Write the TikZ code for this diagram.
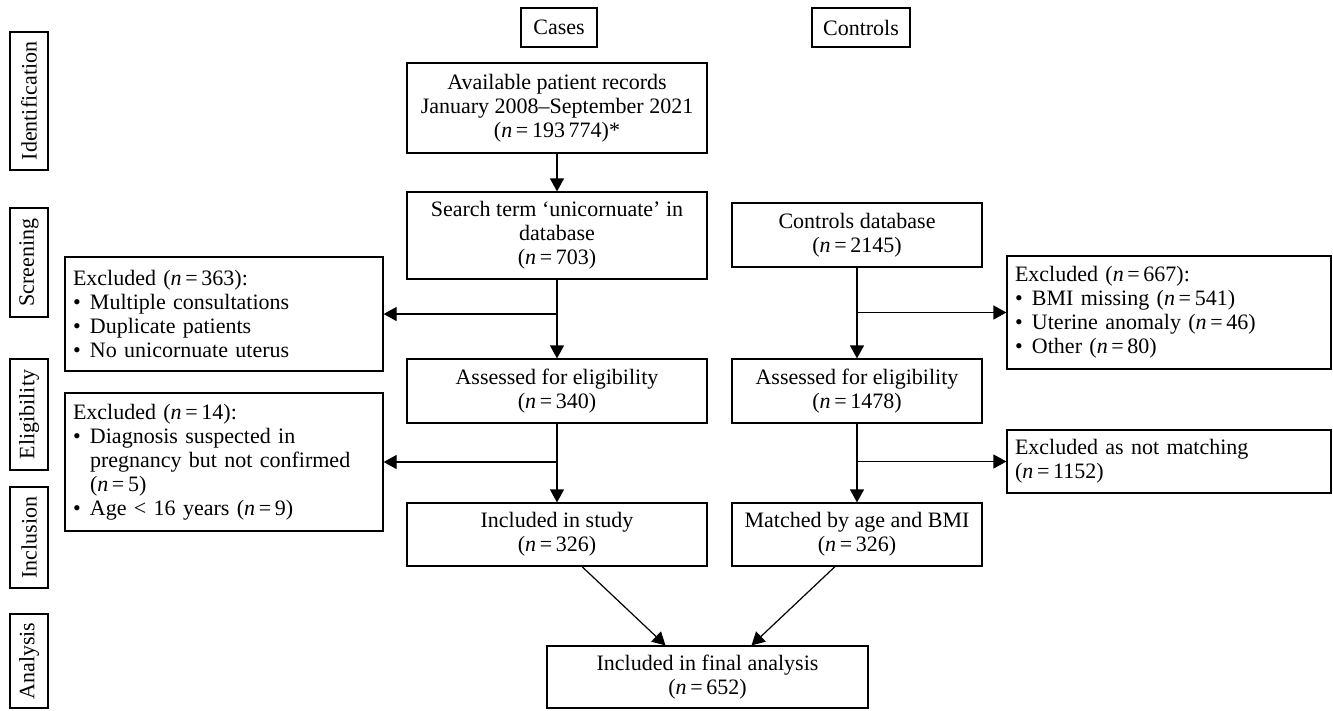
\documentclass[tikz,border=0pt]{standalone}
\usepackage{fontspec}
\setmainfont{Liberation Serif}
\usetikzlibrary{arrows.meta}

\newcommand{\nval}[1]{(\textit{n}\,=\,#1)}
\newcommand{\bul}{\makebox[17pt][l]{\textbullet}}
\newcommand{\cont}{\hspace*{17pt}}

\begin{document}
\begin{tikzpicture}[x=1pt, y=-1pt, font=\fontsize{22}{24}\selectfont,
    box/.style={draw, line width=1.2pt, align=center, inner sep=4pt},
    exbox/.style={draw, line width=1.2pt, align=left, inner xsep=8pt, inner ysep=4pt},
    stage/.style={draw, line width=1.2pt, rotate=90, minimum height=38pt, inner sep=2pt},
    flow/.style={line width=1.2pt, -{Triangle[length=13pt, width=14pt]}}]

    \useasboundingbox (0,0) rectangle (1333,710);

    % phases on the left
    \foreach \lab/\yc/\len in {Identification/101/138, Screening/262.5/109,
        Eligibility/414.5/111, Inclusion/537.5/101, Analysis/661/94}{
    \node[stage, minimum width=\len pt] (\lab) at (29,\yc) {\lab};
    }

    % column heads
    \node[box, minimum width=76pt, minimum height=39pt] (cases) at (559,27.5) {Cases};
    \node[box, minimum width=98pt, minimum height=39pt] (controls) at (861,27.5) {Controls};

    % cases
    \node[box, minimum width=300pt, minimum height=90pt] (avail) at (557,108)
        {Available patient records\\January 2008--September 2021\\\nval{193\,774}*};
    \node[box, minimum width=300pt, minimum height=87pt] (search) at (557,235.5)
        {Search term ‘unicornuate’ in\\database\\\nval{703}};
    \node[box, minimum width=300pt, minimum height=64pt] (assA) at (557,391)
        {Assessed for eligibility\\\nval{340}};
    \node[box, minimum width=300pt, minimum height=63pt] (inclA) at (557,534.5)
        {Included in study\\\nval{326}};

    % controls
    \node[box, minimum width=250pt, minimum height=64pt] (ctrldb) at (857,235)
        {Controls database\\\nval{2145}};
    \node[box, minimum width=250pt, minimum height=64pt] (assB) at (857,391)
        {Assessed for eligibility\\\nval{1478}};
    \node[box, minimum width=250pt, minimum height=63pt] (inclB) at (857,534.5)
        {Matched by age and BMI\\\nval{326}};

    % exclusions
    \node[exbox, text width=302pt, minimum height=114pt] (exA1) at (224,314)
        {Excluded \nval{363}:\\\bul Multiple consultations\\\bul Duplicate patients\\\bul No unicornuate uterus};
    \node[exbox, text width=302pt, minimum height=138pt] (exA2) at (224,462)
        {Excluded \nval{14}:\\\bul Diagnosis suspected in\\\cont pregnancy but not confirmed\\\cont \nval{5}\\\bul Age < 16 years \nval{9}};
    \node[exbox, text width=308pt, minimum height=113pt] (exB1) at (1169,312.5)
        {Excluded \nval{667}:\\\bul BMI missing \nval{541}\\\bul Uterine anomaly \nval{46}\\\bul Other \nval{80}};
    \node[exbox, text width=308pt, minimum height=63pt] (exB2) at (1169,461.5)
        {Excluded as not matching\\\nval{1152}};

    \node[box, minimum width=321pt, minimum height=62pt] (final) at (707.5,677)
        {Included in final analysis\\\nval{652}};

    % arrows
    \draw[flow] (avail) -- (search);
    \draw[flow] (search) -- (assA);
    \draw[flow] (assA) -- (inclA);
    \draw[flow] (ctrldb) -- (assB);
    \draw[flow] (assB) -- (inclB);
    \draw[flow] (search.south |- exA1.east) -- (exA1.east);
    \draw[flow] (assA.south |- exA2.east) -- (exA2.east);
    \draw[flow] (ctrldb.south |- exB1.west) -- (exB1.west);
    \draw[flow] (assB.south |- exB2.west) -- (exB2.west);
    \draw[flow] ([xshift=25pt]inclA.south) -- ([xshift=-42pt]final.north);
    \draw[flow] ([xshift=-22pt]inclB.south) -- ([xshift=44pt]final.north);
\end{tikzpicture}
\end{document}
